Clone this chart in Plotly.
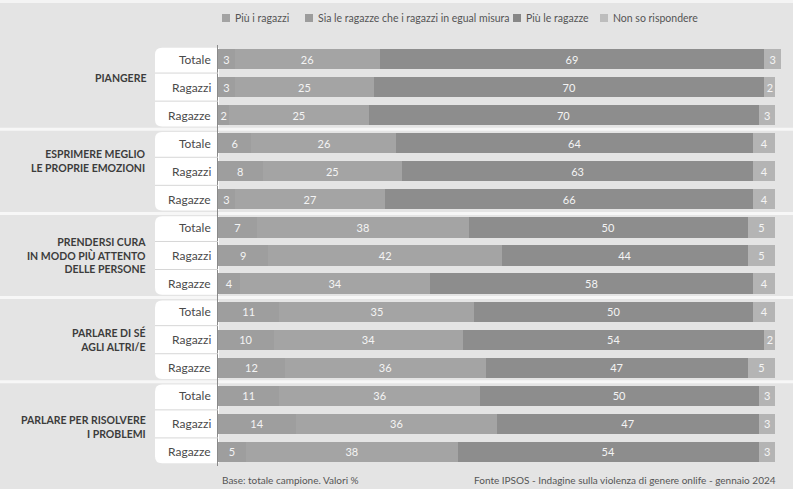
import plotly.graph_objects as go

# ---- data ----
groups = ["PIANGERE", "ESPRIMERE MEGLIO<br>LE PROPRIE EMOZIONI",
          "PRENDERSI CURA<br>IN MODO PIÙ ATTENTO<br>DELLE PERSONE",
          "PARLARE DI SÉ<br>AGLI ALTRI/E", "PARLARE PER RISOLVERE<br>I PROBLEMI"]
subgroups = ["Totale", "Ragazzi", "Ragazze"]
series_names = ["Più i ragazzi", "Sia le ragazze che i ragazzi in egual misura",
                "Più le ragazze", "Non so rispondere"]
piu_ragazzi = [3, 3, 2, 6, 8, 3, 7, 9, 4, 11, 10, 12, 11, 14, 5]
egual_misura = [26, 25, 25, 26, 25, 27, 38, 42, 34, 35, 34, 36, 36, 36, 38]
piu_ragazze = [69, 70, 70, 64, 63, 66, 50, 44, 58, 50, 54, 47, 50, 47, 54]
non_so = [3, 2, 3, 4, 4, 4, 5, 5, 4, 4, 2, 5, 3, 3, 3]
note_left = "Base: totale campione. Valori %"
note_right = "Fonte IPSOS - Indagine sulla violenza di genere onlife - gennaio 2024"

# ---- style ----
W, H = 793, 489
ML, MR, MT, MB = 218, 12, 45, 23
PW, PH = W - ML - MR, H - MT - MB
BG = "#e4e4e4"
colors = ["#9e9e9e", "#a4a4a4", "#8d8d8d", "#b4b4b4"]
legend_colors = ["#a3a3a3", "#9c9c9c", "#878787", "#bdbdbd"]
group_label_shift = [-0.33, -0.38, 0.0, 0.0, 0.1]  # vertical offset of group titles (rows)
FONT = "Lato"


def px(x):
    return (x - ML) / PW


def py(y):
    return (H - MB - y) / PH


n_rows = len(groups) * len(subgroups)
row_idx = list(range(n_rows))
all_series = [piu_ragazzi, egual_misura, piu_ragazze, non_so]

fig = go.Figure()
for name, vals, col in zip(series_names, all_series, colors):
    fig.add_trace(go.Bar(
        x=vals, y=row_idx, orientation="h", name=name,
        marker=dict(color=col, line=dict(width=0)),
        width=0.72, text=[str(v) for v in vals],
        textposition="inside", insidetextanchor="middle",
        textfont=dict(family=FONT, size=11, color="#f4f4f4"),
        showlegend=False, hoverinfo="skip",
    ))

shapes = []
annotations = []

# thin light stripe at top
shapes.append(dict(type="rect", xref="paper", yref="paper", x0=px(0), x1=px(W),
                   y0=py(3), y1=py(0), fillcolor="#f4f4f4", line=dict(width=0),
                   layer="below"))

ng = len(groups)
ns = len(subgroups)
# group separators (white lines full width)
for g in range(1, ng):
    yb = g * ns - 0.5
    shapes.append(dict(type="line", xref="paper", yref="y", x0=px(0), x1=px(W),
                       y0=yb, y1=yb, line=dict(color="#f7f7f7", width=3),
                       layer="below"))

# white label boxes with rounded left corners
bx0, bx1 = px(155), px(219)
rx = 7 / PW
ry = 7 / (PH / n_rows)
for g in range(ng):
    top = g * ns - 0.5 + 0.1
    bot = g * ns + ns - 0.5 - 0.1
    path = (f"M {bx1},{top} L {bx0 + rx},{top} Q {bx0},{top} {bx0},{top + ry} "
            f"L {bx0},{bot - ry} Q {bx0},{bot} {bx0 + rx},{bot} L {bx1},{bot} Z")
    shapes.append(dict(type="path", xref="paper", yref="y", path=path,
                       fillcolor="#ffffff", line=dict(width=0), layer="below"))
    for k in range(1, ns):
        yl = g * ns + k - 0.5
        shapes.append(dict(type="line", xref="paper", yref="y", x0=bx0, x1=px(218),
                           y0=yl, y1=yl, line=dict(color="#d6d6d6", width=1),
                           layer="above"))
    # group label
    annotations.append(dict(text=groups[g], xref="paper", yref="y", x=px(148),
                            y=g * ns + (ns - 1) / 2 + group_label_shift[g],
                            xanchor="right", yanchor="middle",
                            align="right", showarrow=False,
                            font=dict(family=FONT, size=10.5, color="#3c3c3c",
                                      weight="bold")))

# row labels
for i in row_idx:
    annotations.append(dict(text=subgroups[i % ns], xref="paper", yref="y",
                            x=px(213), y=i, xanchor="right", yanchor="middle",
                            showarrow=False,
                            font=dict(family=FONT, size=12, color="#4a4a4a")))

# legend (manual)
leg_x = [222, 305, 513, 600]
for lx, name, col in zip(leg_x, series_names, legend_colors):
    shapes.append(dict(type="rect", xref="paper", yref="paper",
                       x0=px(lx), x1=px(lx + 8), y0=py(22), y1=py(14),
                       fillcolor=col, line=dict(width=0)))
    annotations.append(dict(text=name, xref="paper", yref="paper", x=px(lx + 11),
                            y=py(18), xanchor="left", yanchor="middle",
                            showarrow=False,
                            font=dict(family=FONT, size=10.5, color="#555555")))

# footer notes
annotations.append(dict(text=note_left, xref="paper", yref="paper", x=px(220),
                        y=py(480), xanchor="left", yanchor="middle", showarrow=False,
                        font=dict(family=FONT, size=10, color="#555555")))
annotations.append(dict(text=note_right, xref="paper", yref="paper", x=px(778),
                        y=py(480), xanchor="right", yanchor="middle", showarrow=False,
                        font=dict(family=FONT, size=10, color="#555555")))

fig.update_layout(
    width=W, height=H, margin=dict(l=ML, r=MR, t=MT, b=MB, pad=0),
    paper_bgcolor=BG, plot_bgcolor=BG, barmode="stack", bargap=0.28,
    uniformtext=dict(minsize=11, mode="show"),
    shapes=shapes, annotations=annotations, showlegend=False,
    xaxis=dict(range=[0, 101], showgrid=False, zeroline=False, showticklabels=False,
               ticks="", fixedrange=True),
    yaxis=dict(range=[n_rows - 0.5, -0.5], showgrid=False, zeroline=False,
               showticklabels=False, ticks="", showline=True, linecolor="#8a8a8a",
               linewidth=1, fixedrange=True),
    font=dict(family=FONT),
)

fig.write_html("out.html", config={"displayModeBar": False},
               post_script="document.body.style.margin='0';"
                           "document.body.style.background='#e4e4e4';")
